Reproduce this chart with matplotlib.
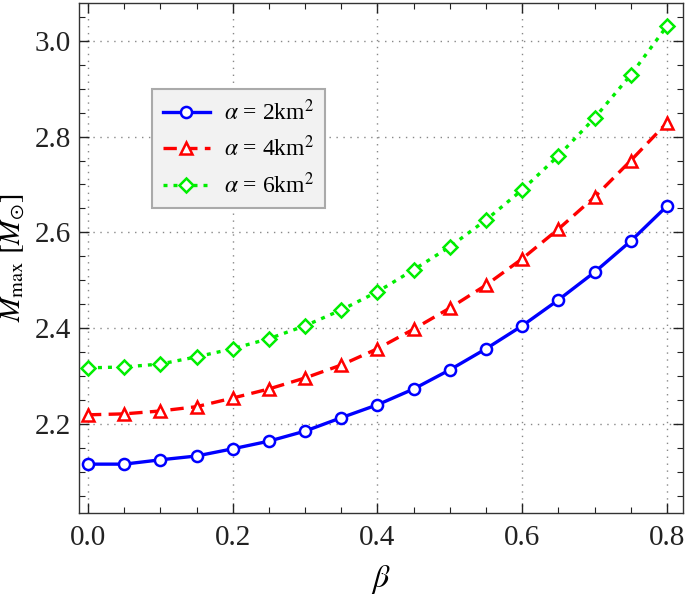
import matplotlib
matplotlib.use("Agg")
import matplotlib.pyplot as plt
from matplotlib.ticker import MultipleLocator, FormatStrFormatter

plt.rcParams["font.family"] = ["Liberation Serif", "DejaVu Serif"]
plt.rcParams["mathtext.fontset"] = "stix"

beta = [0.0, 0.05, 0.1, 0.15, 0.2, 0.25, 0.3, 0.35, 0.4,
        0.45, 0.5, 0.55, 0.6, 0.65, 0.7, 0.75, 0.8]
m_alpha2 = [2.116, 2.116, 2.125, 2.133, 2.148, 2.164, 2.185, 2.213, 2.240,
            2.273, 2.313, 2.357, 2.405, 2.459, 2.517, 2.582, 2.655]
m_alpha4 = [2.219, 2.221, 2.227, 2.236, 2.254, 2.273, 2.296, 2.323, 2.357,
            2.398, 2.442, 2.490, 2.545, 2.607, 2.674, 2.750, 2.829]
m_alpha6 = [2.317, 2.319, 2.325, 2.340, 2.357, 2.378, 2.405, 2.438, 2.476,
            2.522, 2.570, 2.626, 2.689, 2.760, 2.839, 2.929, 3.031]
labels = [r"$\alpha$ = 2km$^2$", r"$\alpha$ = 4km$^2$", r"$\alpha$ = 6km$^2$"]

fig = plt.figure(figsize=(6.85, 5.99), dpi=100)
ax = fig.add_axes([0.1153, 0.1436, 0.8817, 0.8514])

common = dict(markerfacecolor="white", markeredgewidth=1.8, lw=2.4, zorder=3)
ax.plot(beta, m_alpha2, color="#0000ff", ls="-", marker="o", ms=8, label=labels[0], **common)
ax.plot(beta, m_alpha4, color="#ff0000", ls=(0, (4, 2.2)), marker="^", ms=9, label=labels[1], **common)
ax.plot(beta, m_alpha6, color="#00ee00", ls=(0, (1.2, 1.8)), marker="D", ms=7, label=labels[2], **common)

ax.set_xlim(-0.0124, 0.822)
ax.set_ylim(2.014, 3.079)
ax.xaxis.set_major_locator(MultipleLocator(0.2))
ax.xaxis.set_minor_locator(MultipleLocator(0.05))
ax.yaxis.set_major_locator(MultipleLocator(0.2))
ax.yaxis.set_minor_locator(MultipleLocator(0.05))
ax.xaxis.set_major_formatter(FormatStrFormatter("%.1f"))
ax.yaxis.set_major_formatter(FormatStrFormatter("%.1f"))
ax.tick_params(which="both", direction="in", top=True, right=True, labelsize=21, colors="#222222")
ax.tick_params(which="major", length=7, width=1.0)
ax.tick_params(which="minor", length=4, width=0.8)
ax.tick_params(axis="x", pad=9)
ax.tick_params(axis="y", pad=6)
for s in ax.spines.values():
    s.set_color("#333333")
    s.set_linewidth(1.0)
ax.grid(True, which="major", color="#888888", ls=(0, (1, 4)), lw=1.0)

ax.set_xlabel(r"$\beta$", fontsize=23, labelpad=8)
ax.set_ylabel(r"$M_{\rm max}\ [M_{\odot}]$", fontsize=21)
ax.yaxis.set_label_coords(-0.086, 0.5)

leg = ax.legend(loc="upper left", bbox_to_anchor=(0.121, 0.831), fontsize=17,
                frameon=True, fancybox=False, handlelength=2.0, borderaxespad=0,
                borderpad=0.45, labelspacing=0.45, handletextpad=0.6)
leg.get_frame().set_facecolor("#f2f2f2")
leg.get_frame().set_edgecolor("#aaaaaa")
leg.get_frame().set_alpha(1.0)
leg.get_frame().set_linewidth(1.5)

fig.savefig("out.png", dpi=100)
